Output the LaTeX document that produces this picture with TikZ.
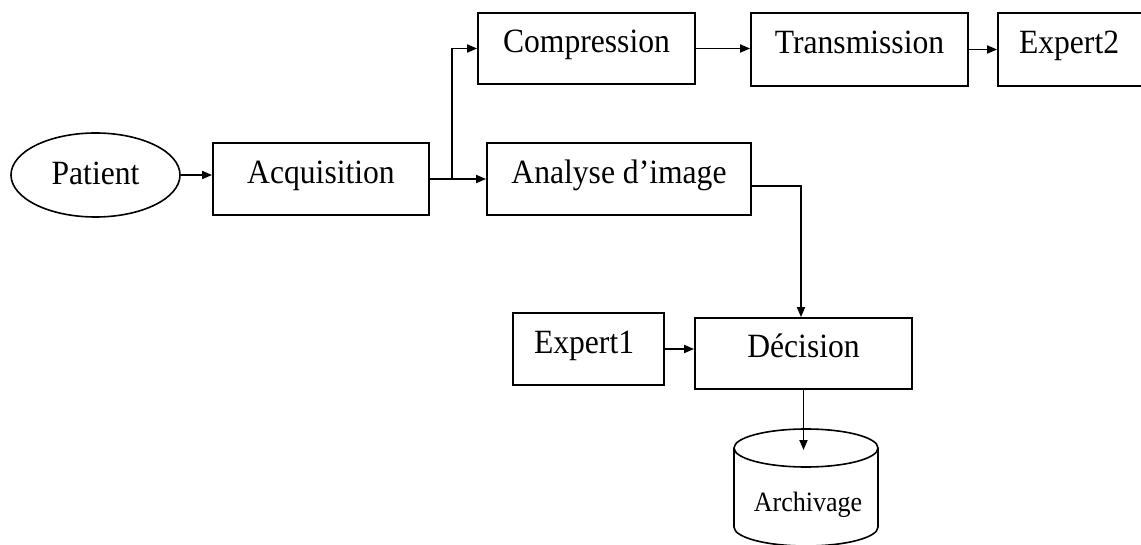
\documentclass[tikz,border=0pt]{standalone}
\usepackage{fontspec}
\setmainfont{Liberation Serif}[FakeStretch=0.93]
\usetikzlibrary{arrows.meta,shapes.geometric}
\tikzset{
  boxnode/.style={draw, line width=1.8pt, rectangle, inner sep=0pt,
    font=\fontsize{34}{38}\selectfont, text height=19pt, text depth=10pt},
  leftbox/.style={boxnode, inner xsep=21pt, align=left},
  conn/.style={line width=1.8pt, -{Triangle[length=10pt,width=8pt]}}
}
\begin{document}
\begin{tikzpicture}[x=1pt,y=-1pt]
\useasboundingbox (0,0) rectangle (1141,545);
% nodes
\node[draw, ellipse, line width=1.6pt, inner sep=0pt, minimum width=169pt, minimum height=84pt,
  font=\fontsize{34}{38}\selectfont, text height=20pt, text depth=0pt] (pat) at (95.5,175) {Patient};
\node[boxnode, minimum width=216pt, minimum height=72pt] (acq) at (321,179) {Acquisition};
\node[boxnode, minimum width=217pt, minimum height=71pt] (comp) at (586.5,48.5) {Compression};
\node[boxnode, minimum width=217pt, minimum height=73pt] (trans) at (859.5,49.5) {Transmission};
\node[leftbox, text width=102pt, minimum height=73pt] (exptwo) at (1070,49.5) {Expert2};
\node[boxnode, minimum width=264pt, minimum height=72pt] (ana) at (619,179) {Analyse d’image};
\node[leftbox, text width=109pt, minimum height=72pt] (expone) at (588.5,349) {Expert1};
\node[boxnode, minimum width=217pt, minimum height=71pt] (dec) at (803.5,353.5) {Décision};
% cylinder (archive)
\draw[line width=1.6pt] (806,448) ellipse [x radius=72pt, y radius=19pt];
\draw[line width=1.6pt] (734,448) -- (734,527)
  arc[start angle=180, end angle=360, x radius=72pt, y radius=19pt] -- (878,448);
\node[font=\fontsize{28}{32}\selectfont, anchor=base, inner sep=0pt] (arch) at (808,511) {Archivage};
\coordinate (archtop) at (806,450);
% connectors
\draw[conn] (pat.east) -- (pat.east -| acq.west);
\draw[conn] (acq.east) -- (acq.east -| ana.west);
\draw[conn] (acq.east) -- ++(22,0) |- (comp.west);
\draw[conn] (comp.east) -- (comp.east -| trans.west);
\draw[conn] (trans.east) -- (trans.east -| exptwo.west);
\draw[conn] ([yshift=-7pt]ana.east) -| ([xshift=-2.5pt]dec.north);
\draw[conn] (expone.east) -- (expone.east -| dec.west);
\draw[conn] (dec.south) -- (dec.south |- archtop);
\end{tikzpicture}
\end{document}
